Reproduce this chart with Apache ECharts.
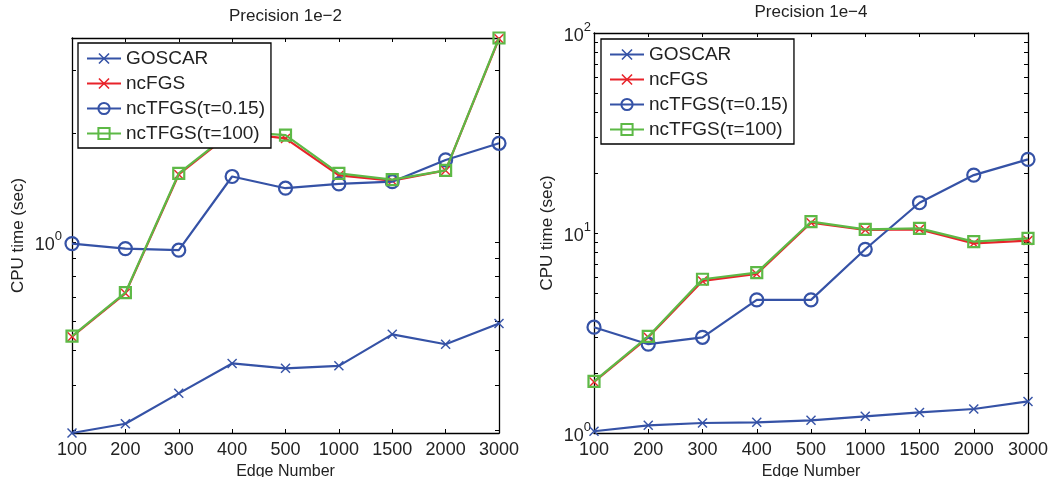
<!DOCTYPE html>
<html>
<head>
<meta charset="utf-8">
<script src="https://cdn.jsdelivr.net/npm/echarts@6/dist/echarts.min.js"></script>
<style>
html,body{margin:0;padding:0;background:#fff;}
#chart{width:1060px;height:477px;}
</style>
</head>
<body>
<div id="chart"></div>
<script>
const categories = ['100','200','300','400','500','1000','1500','2000','3000'];
const seriesNames = ['GOSCAR','ncFGS','ncTFGS(\u03C4=0.15)','ncTFGS(\u03C4=100)'];

// Left panel: Precision 1e-2
const goscarL    = [0.294, 0.312, 0.379, 0.459, 0.445, 0.452, 0.553, 0.519, 0.593];
const ncfgsL     = [0.545, 0.719, 1.54, 2.02, 1.94, 1.53, 1.48, 1.58, 3.67];
const nctfgs015L = [0.989, 0.958, 0.948, 1.52, 1.41, 1.45, 1.47, 1.69, 1.88];
const nctfgs100L = [0.547, 0.722, 1.55, 2.03, 1.98, 1.55, 1.49, 1.58, 3.69];

// Right panel: Precision 1e-4
const goscarR    = [1.02, 1.092, 1.122, 1.131, 1.157, 1.211, 1.268, 1.318, 1.439];
const ncfgsR     = [1.80, 3.01, 5.76, 6.24, 11.26, 10.35, 10.43, 8.88, 9.16];
const nctfgs015R = [3.38, 2.78, 3.01, 4.63, 4.63, 8.29, 14.17, 19.48, 23.33];
const nctfgs100R = [1.81, 3.04, 5.87, 6.34, 11.39, 10.43, 10.55, 9.05, 9.40];

const leftTicks = [0.3,0.4,0.5,0.6,0.7,0.8,0.9,1,2,3];
const leftLabels = [1];
const rightTicks = [1,2,3,4,5,6,7,8,9,10,20,30,40,50,60,70,80,90,100];
const rightLabels = [1,10,100];

const BLUE = '#3552a6', RED = '#e8232a', GREEN = '#5db946';
const FONT = '"Liberation Sans", Arial, Helvetica, sans-serif';
const TXT = '#222';
const xSym = 'path://M0,1 L1,0 L5,4 L9,0 L10,1 L6,5 L10,9 L9,10 L5,6 L1,10 L0,9 L4,5 Z';

function expLabel(v){
  const e = Math.round(Math.log10(v));
  return '{a|10}{b|' + e + '}';
}
const rich = {
  a:{fontSize:18, fontFamily:FONT, color:TXT, verticalAlign:'bottom', lineHeight:24},
  b:{fontSize:13, fontFamily:FONT, color:TXT, verticalAlign:'top', lineHeight:24}
};

function mkSeries(idx, data){
  return [
    {name:seriesNames[0], type:'line', xAxisIndex:idx*2, yAxisIndex:idx*2, data:data[0],
     symbol:xSym, symbolSize:10, lineStyle:{color:BLUE,width:2.2}, itemStyle:{color:BLUE}, color:BLUE, z:2},
    {name:seriesNames[1], type:'line', xAxisIndex:idx*2, yAxisIndex:idx*2, data:data[1],
     symbol:xSym, symbolSize:10, lineStyle:{color:RED,width:2.2}, itemStyle:{color:RED}, color:RED, z:3},
    {name:seriesNames[2], type:'line', xAxisIndex:idx*2, yAxisIndex:idx*2, data:data[2],
     symbol:'circle', symbolSize:13, lineStyle:{color:BLUE,width:2.2},
     itemStyle:{color:'rgba(255,255,255,0)', borderColor:BLUE, borderWidth:2.2}, color:BLUE, z:4},
    {name:seriesNames[3], type:'line', xAxisIndex:idx*2, yAxisIndex:idx*2, data:data[3],
     symbol:'rect', symbolSize:11, lineStyle:{color:GREEN,width:2.2},
     itemStyle:{color:'rgba(255,255,255,0)', borderColor:GREEN, borderWidth:2.2}, color:GREEN, z:5}
  ].map(s => Object.assign(s, {animation:false, clip:false, showAllSymbol:true}));
}

function xAxes(grid){
  return [
    {type:'category', gridIndex:grid, data:categories, boundaryGap:false, position:'bottom',
     axisLine:{lineStyle:{color:'#000',width:1.3}},
     axisTick:{inside:true, length:4, alignWithLabel:true, lineStyle:{color:'#000'}},
     axisLabel:{fontSize:18, fontFamily:FONT, color:TXT, margin:8, interval:0},
     splitLine:{show:false},
     name:'Edge Number', nameLocation:'middle', nameGap:26,
     nameTextStyle:{fontSize:16, fontFamily:FONT, color:TXT}},
    {type:'category', gridIndex:grid, data:categories, boundaryGap:false, position:'top',
     axisLine:{lineStyle:{color:'#000',width:1.3}},
     axisTick:{inside:true, length:4, lineStyle:{color:'#000'}},
     axisLabel:{show:false}, splitLine:{show:false}}
  ];
}
function yAxes(grid, min, max, ticks, labels, labelMargin, nameGap){
  return [
    {type:'log', gridIndex:grid, min:min, max:max, position:'left',
     axisLine:{show:true, lineStyle:{color:'#000',width:1.3}},
     axisTick:{show:true, inside:true, length:4, customValues:ticks, lineStyle:{color:'#000'}},
     axisLabel:{customValues:labels, formatter:expLabel, rich:rich, margin:labelMargin},
     splitLine:{show:false}, minorTick:{show:false},
     name:'CPU time (sec)', nameLocation:'middle', nameGap:nameGap,
     nameTextStyle:{fontSize:17, fontFamily:FONT, color:TXT}},
    {type:'log', gridIndex:grid, min:min, max:max, position:'right',
     axisLine:{show:true, lineStyle:{color:'#000',width:1.3}},
     axisTick:{show:true, inside:true, length:4, customValues:ticks, lineStyle:{color:'#000'}},
     axisLabel:{show:false}, splitLine:{show:false}}
  ];
}
function legend(left, top){
  return {
    orient:'vertical', left:left, top:top, data:seriesNames, z:20,
    itemWidth:34, itemHeight:14, itemGap:6,
    padding:[6,6,5,8], borderColor:'#000', borderWidth:1.3, backgroundColor:'#fff',
    textStyle:{fontSize:19, fontFamily:FONT, color:TXT, lineHeight:19}
  };
}

const chart = echarts.init(document.getElementById('chart'), null, {renderer:'canvas'});
chart.setOption({
  animation:false,
  backgroundColor:'#fff',
  title:[
    {text:'Precision 1e\u22122', left:285.5, top:8, padding:0, textAlign:'center',
     textStyle:{fontSize:17, fontWeight:'normal', fontFamily:FONT, color:TXT}},
    {text:'Precision 1e\u22124', left:811, top:4, padding:0, textAlign:'center',
     textStyle:{fontSize:17, fontWeight:'normal', fontFamily:FONT, color:TXT}}
  ],
  grid:[
    {left:72, top:38, width:427, height:395, outerBoundsMode:'none', containLabel:false},
    {left:594, top:33, width:434, height:400, outerBoundsMode:'none', containLabel:false}
  ],
  xAxis: xAxes(0).concat(xAxes(1)),
  yAxis: yAxes(0, 0.294, 3.69, leftTicks, leftLabels, 10, 45)
         .concat(yAxes(1, 1, 100, rightTicks, rightLabels, 3, 38)),
  legend:[legend(78, 43), legend(601, 39)],
  series: mkSeries(0, [goscarL, ncfgsL, nctfgs015L, nctfgs100L])
          .concat(mkSeries(1, [goscarR, ncfgsR, nctfgs015R, nctfgs100R]))
});
</script>
</body>
</html>
